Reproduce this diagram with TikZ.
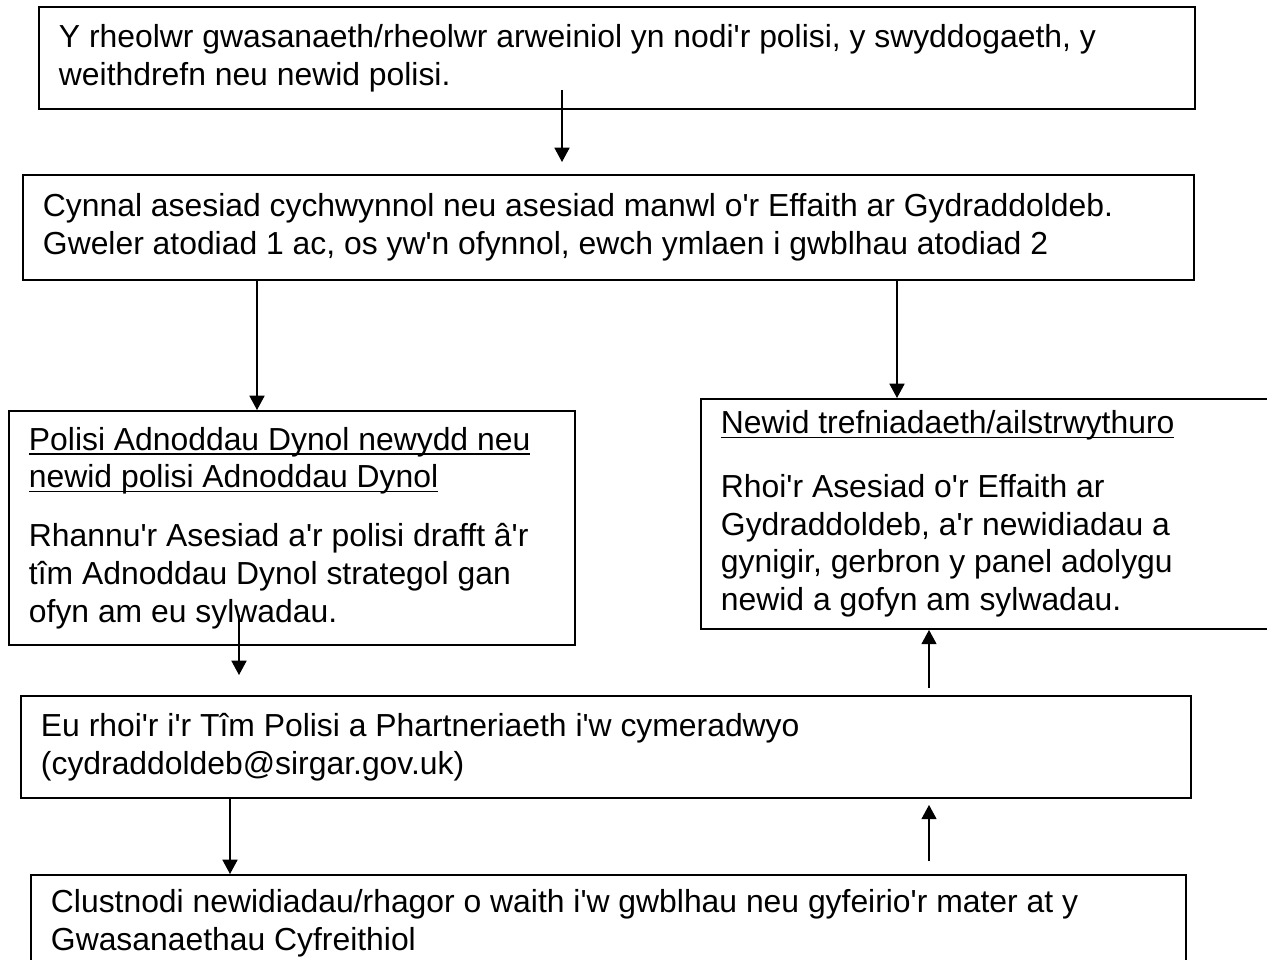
\documentclass[tikz,border=0pt]{standalone}
\usepackage{fontspec}
\setmainfont{Liberation Sans}[Ligatures=TeXOff]
\usetikzlibrary{arrows.meta,calc}

% one pixel of the original drawing
\newcommand\pxu{0.364pt}
% underline that runs through the descenders
\newcommand\undl[1]{\leavevmode{\setbox0\hbox{#1}\rlap{\rule[-1.6pt]{\wd0}{0.6pt}}\box0}}

\tikzset{
  stepbox/.style={draw, line width=0.7pt, rectangle, anchor=north west,
    align=flush left, inner xsep=20*\pxu, inner ysep=0pt,
    font=\fontsize{11.6}{13.7}\selectfont},
  arr/.style={line width=0.45pt, -{Triangle[length=5.2pt,width=5.5pt]}}
}

\begin{document}
\begin{tikzpicture}[x={(\pxu,0)}, y={(0,-\pxu)}]

% trim canvas to the page
\clip (0,0) rectangle (1267,960);

% boxes
\node[stepbox, minimum width=1156*\pxu, minimum height=102*\pxu, text width=1116*\pxu]
  (b1) at (38,6)
  {Y rheolwr gwasanaeth/rheolwr arweiniol yn nodi'r polisi, y swyddogaeth, y\\
   weithdrefn neu newid polisi.};

\node[stepbox, minimum width=1171*\pxu, minimum height=105*\pxu, text width=1131*\pxu]
  (b2) at (22,174)
  {Cynnal asesiad cychwynnol neu asesiad manwl o'r Effaith ar Gydraddoldeb.\\
   Gweler atodiad 1 ac, os yw'n ofynnol, ewch ymlaen i gwblhau atodiad 2};

\node[stepbox, minimum width=566*\pxu, minimum height=234*\pxu, text width=526*\pxu]
  (b3) at (8,410)
  {\undl{Polisi Adnoddau Dynol newydd neu}\\
   \undl{newid polisi Adnoddau Dynol}\\[7.8pt]
   Rhannu'r Asesiad a'r polisi drafft â'r\\
   tîm Adnoddau Dynol strategol gan\\
   ofyn am eu sylwadau.};

\node[stepbox, minimum width=600*\pxu, minimum height=230*\pxu, text width=560*\pxu]
  (b4) at (700,398)
  {\undl{Newid trefniadaeth/ailstrwythuro}\\[9.5pt]
   Rhoi'r Asesiad o'r Effaith ar\\
   Gydraddoldeb, a'r newidiadau a\\
   gynigir, gerbron y panel adolygu\\
   newid a gofyn am sylwadau.};

\node[stepbox, minimum width=1170*\pxu, minimum height=102*\pxu, text width=1130*\pxu]
  (b5) at (20,695)
  {Eu rhoi'r i'r Tîm Polisi a Phartneriaeth i'w cymeradwyo\\
   (cydraddoldeb@sirgar.gov.uk)};

\node[stepbox, minimum width=1155*\pxu, minimum height=97*\pxu, text width=1115*\pxu]
  (b6) at (30,874)
  {Clustnodi newidiadau/rhagor o waith i'w gwblhau neu gyfeirio'r mater at y\\
   Gwasanaethau Cyfreithiol};

% arrow columns
\coordinate (c1) at (562,0);
\coordinate (c2) at (257,0);
\coordinate (c3) at (897,0);
\coordinate (c4) at (239,0);
\coordinate (c5) at (929,0);
\coordinate (c6) at (230,0);

% arrows down
\draw[arr] ($(b1.south -| c1)+(0,-20)$) -- ($(b2.north -| c1)+(0,-12)$);
\draw[arr] (b2.south -| c2) -- (b3.north -| c2);
\draw[arr] (b2.south -| c3) -- (b4.north -| c3);
\draw[arr] ($(b3.south -| c4)+(0,-31)$) -- ($(b5.north -| c4)+(0,-20)$);
\draw[arr] (b5.south -| c6) -- (b6.north -| c6);

% arrows up
\draw[arr] ($(b5.north -| c5)+(0,-7)$) -- (b4.south -| c5);
\draw[arr] ($(b6.north -| c5)+(0,-13)$) -- ($(b5.south -| c5)+(0,6)$);

\end{tikzpicture}
\end{document}
